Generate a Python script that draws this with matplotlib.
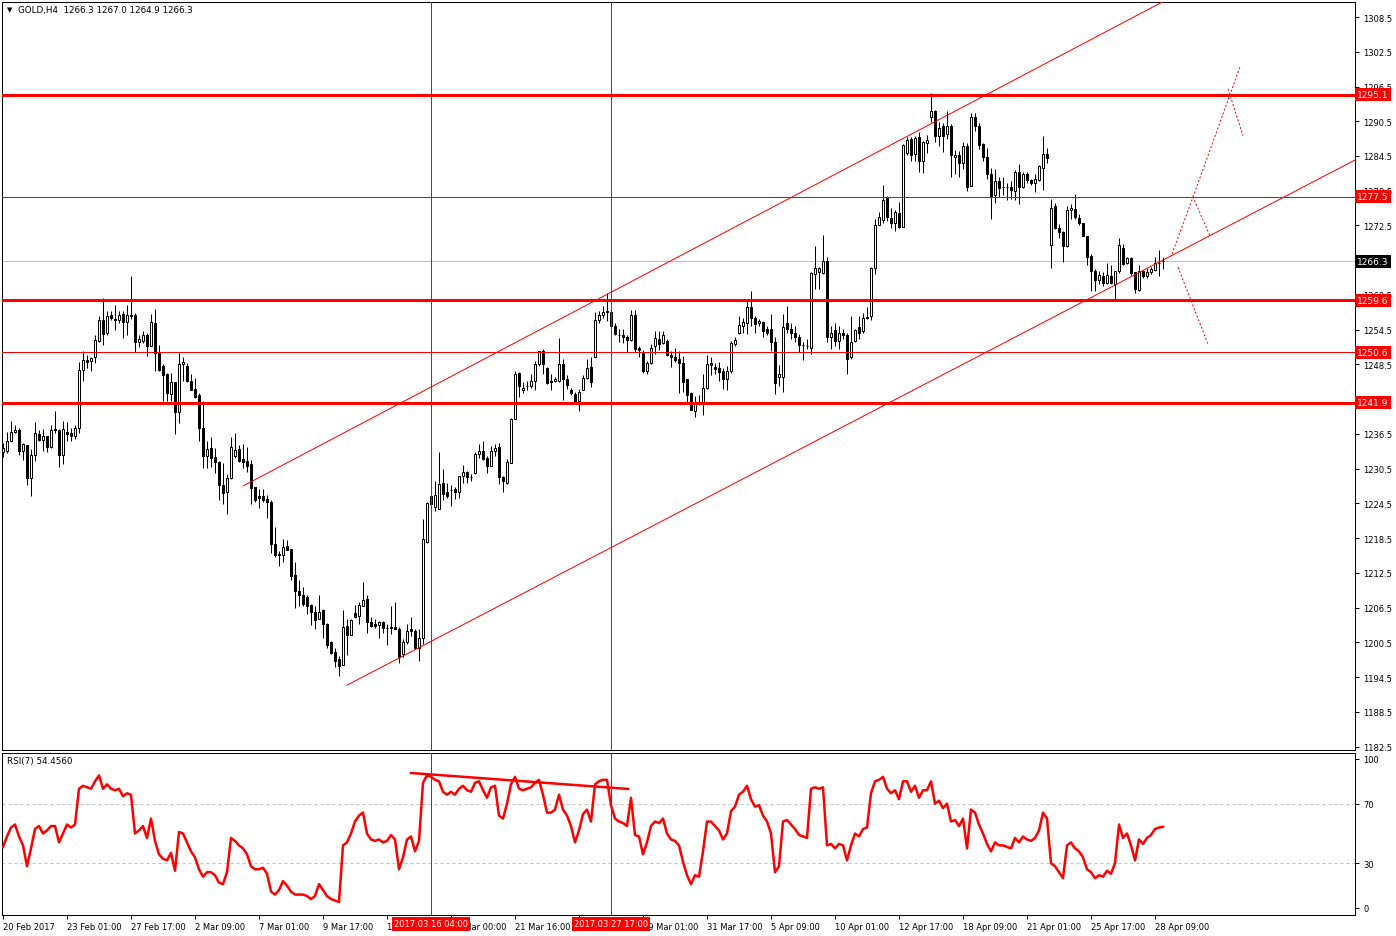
import numpy as np
import matplotlib.pyplot as plt
import matplotlib.transforms as mtransforms

# GOLD H4 candles, bar index 0 = 20 Feb 2017
opens = [
    1233.4, 1233.6, 1235.3, 1236.8, 1237.2, 1233.6, 1234.6, 1228.8, 1232.9, 1236.5,
    1235.5, 1236.2, 1234.2, 1237.3, 1237.2, 1232.9, 1236.8, 1236.7, 1236.1, 1237.5,
    1247.5, 1249.3, 1249.1, 1249.7, 1252.6, 1256.2, 1253.9, 1257.0, 1256.3, 1256.2,
    1257.2, 1255.8, 1257.0, 1257.0, 1252.3, 1252.6, 1253.6, 1251.7, 1255.7, 1250.4,
    1248.2, 1246.8, 1243.4, 1245.4, 1240.3, 1248.5, 1248.2, 1245.6, 1244.3, 1243.2,
    1237.5, 1232.6, 1234.1, 1232.5, 1231.7, 1227.7, 1226.4, 1228.8, 1232.7, 1233.9,
    1232.2, 1231.9, 1231.3, 1227.3, 1225.7, 1225.7, 1225.3, 1224.7, 1217.5, 1215.8,
    1215.6, 1217.1, 1216.6, 1212.1, 1209.4, 1208.7, 1208.3, 1206.9, 1205.8, 1204.6,
    1206.1, 1203.7, 1200.5, 1198.8, 1197.6, 1196.5, 1203.3, 1201.8, 1205.5, 1205.0,
    1206.8, 1208.0, 1204.0, 1203.7, 1203.5, 1204.0, 1202.9, 1203.2, 1203.2, 1202.8,
    1198.5, 1200.5, 1202.8, 1202.5, 1199.6, 1201.2, 1217.8, 1224.4, 1223.8, 1223.6,
    1228.0, 1226.5, 1226.8, 1227.0, 1226.5, 1229.2, 1229.9, 1229.0, 1229.7, 1233.0,
    1233.5, 1232.3, 1231.0, 1233.5, 1234.2, 1229.0, 1228.1, 1231.5, 1239.1, 1247.0,
    1244.1, 1244.8, 1244.8, 1245.6, 1248.6, 1250.8, 1247.8, 1245.7, 1245.6, 1245.7,
    1248.6, 1246.0, 1244.1, 1243.4, 1242.1, 1244.0, 1246.1, 1248.0, 1249.7, 1256.1,
    1257.0, 1257.5, 1257.5, 1255.1, 1253.6, 1253.6, 1253.2, 1252.8, 1257.0, 1251.3,
    1250.6, 1247.4, 1248.7, 1251.6, 1252.9, 1252.2, 1252.6, 1250.2, 1249.7, 1249.4,
    1248.7, 1245.9, 1243.5, 1240.5, 1241.8, 1241.8, 1244.4, 1248.7, 1248.0, 1247.8,
    1247.3, 1245.9, 1247.3, 1252.0, 1254.0, 1255.1, 1255.6, 1258.4, 1256.5, 1255.7,
    1255.8, 1254.6, 1254.6, 1252.3, 1246.4, 1246.3, 1255.7, 1254.7, 1253.9, 1253.2,
    1251.9, 1251.6, 1251.4, 1264.1, 1264.4, 1264.3, 1266.4, 1253.2, 1254.5, 1252.6,
    1253.9, 1253.6, 1249.7, 1252.5, 1254.9, 1254.2, 1256.5, 1256.8, 1265.1, 1272.5,
    1273.4, 1277.2, 1273.8, 1272.9, 1274.6, 1272.3, 1285.0, 1287.4, 1284.8, 1287.7,
    1283.6, 1286.7, 1291.2, 1292.2, 1287.9, 1289.6, 1288.3, 1289.6, 1284.3, 1284.7,
    1283.3, 1286.2, 1279.4, 1291.3, 1289.6, 1286.6, 1284.4, 1281.4, 1277.8, 1280.2,
    1279.1, 1279.1, 1279.1, 1278.5, 1281.7, 1279.1, 1281.4, 1280.4, 1279.8, 1280.4,
    1282.5, 1284.8, 1269.2, 1275.9, 1272.0, 1271.3, 1269.0, 1275.1, 1275.3, 1273.8,
    1272.9, 1270.7, 1267.3, 1264.7, 1263.1, 1263.8, 1262.5, 1263.8, 1262.4, 1264.6,
    1268.6, 1266.1, 1266.9, 1264.4, 1261.4, 1264.6, 1263.7, 1264.4, 1264.8, 1266.0,
    1266.3,
]
highs = [
    1234.9, 1236.8, 1238.7, 1238.0, 1237.5, 1235.0, 1234.6, 1233.9, 1238.5, 1237.1,
    1237.3, 1236.2, 1238.1, 1240.4, 1237.3, 1238.7, 1238.5, 1237.5, 1238.0, 1248.9,
    1250.9, 1250.1, 1249.8, 1253.6, 1256.8, 1260.0, 1257.8, 1257.8, 1258.8, 1257.8,
    1257.7, 1258.8, 1263.7, 1257.3, 1253.6, 1254.3, 1253.9, 1257.2, 1258.1, 1251.9,
    1248.5, 1247.0, 1247.0, 1245.4, 1250.5, 1249.8, 1248.7, 1246.8, 1246.1, 1243.6,
    1242.1, 1235.2, 1235.9, 1234.1, 1231.9, 1231.4, 1229.5, 1235.9, 1236.7, 1234.6,
    1234.8, 1234.2, 1232.0, 1227.3, 1227.0, 1227.0, 1225.9, 1225.0, 1220.5, 1216.2,
    1218.4, 1218.1, 1216.6, 1214.3, 1211.3, 1210.0, 1208.6, 1207.1, 1206.7, 1208.7,
    1206.2, 1203.8, 1200.8, 1199.6, 1198.1, 1206.1, 1204.5, 1204.5, 1206.9, 1207.4,
    1210.9, 1208.6, 1204.8, 1204.5, 1204.2, 1204.2, 1203.7, 1206.7, 1207.4, 1203.1,
    1201.1, 1203.7, 1204.8, 1202.8, 1202.8, 1221.8, 1224.8, 1226.5, 1228.4, 1233.3,
    1230.4, 1228.0, 1227.6, 1227.3, 1229.3, 1231.2, 1230.1, 1229.6, 1233.3, 1234.8,
    1235.2, 1232.7, 1234.4, 1234.8, 1234.9, 1229.3, 1232.2, 1239.2, 1247.4, 1247.2,
    1245.4, 1245.7, 1246.8, 1249.1, 1250.8, 1251.2, 1248.0, 1246.8, 1246.3, 1253.1,
    1249.4, 1246.7, 1244.5, 1243.7, 1244.2, 1246.6, 1249.4, 1249.7, 1257.5, 1257.8,
    1258.6, 1260.8, 1259.5, 1255.6, 1254.6, 1254.7, 1253.5, 1257.9, 1257.9, 1251.7,
    1251.0, 1249.1, 1252.0, 1254.2, 1254.3, 1254.2, 1252.9, 1250.9, 1251.3, 1250.9,
    1250.0, 1246.0, 1243.7, 1243.0, 1243.2, 1246.8, 1250.1, 1249.7, 1248.8, 1249.0,
    1247.8, 1248.3, 1252.6, 1253.2, 1256.9, 1256.5, 1259.8, 1261.1, 1256.9, 1256.3,
    1256.0, 1255.2, 1257.2, 1253.2, 1248.4, 1257.2, 1258.6, 1255.7, 1255.2, 1253.8,
    1252.4, 1252.9, 1264.4, 1269.0, 1265.4, 1270.9, 1267.0, 1255.2, 1255.7, 1255.2,
    1254.6, 1254.0, 1256.9, 1254.7, 1256.9, 1257.3, 1258.4, 1265.3, 1273.6, 1274.8,
    1279.5, 1277.6, 1275.5, 1275.2, 1276.5, 1286.6, 1287.7, 1287.8, 1288.0, 1288.6,
    1287.1, 1288.2, 1295.3, 1292.4, 1290.3, 1290.2, 1292.3, 1290.0, 1285.5, 1285.4,
    1287.0, 1286.7, 1292.0, 1292.0, 1290.2, 1286.7, 1285.8, 1282.4, 1282.2, 1280.9,
    1280.8, 1279.8, 1280.1, 1282.1, 1283.1, 1281.7, 1281.7, 1280.6, 1281.4, 1282.9,
    1288.0, 1285.9, 1277.1, 1276.3, 1272.8, 1271.6, 1275.9, 1276.2, 1277.9, 1274.5,
    1273.0, 1270.7, 1267.5, 1264.9, 1264.7, 1264.5, 1266.1, 1265.7, 1264.7, 1270.3,
    1269.3, 1267.1, 1267.0, 1264.5, 1265.6, 1264.8, 1265.2, 1265.3, 1267.1, 1268.3,
    1267.0,
]
lows = [
    1232.5, 1233.2, 1235.2, 1236.7, 1232.9, 1232.0, 1227.7, 1225.7, 1231.9, 1235.2,
    1233.6, 1233.3, 1234.1, 1236.7, 1230.8, 1231.3, 1235.3, 1235.3, 1235.6, 1236.7,
    1245.7, 1247.8, 1247.4, 1248.7, 1252.4, 1251.9, 1253.5, 1256.1, 1254.5, 1255.7,
    1253.0, 1253.5, 1256.3, 1250.6, 1251.5, 1252.2, 1249.9, 1251.6, 1247.3, 1247.4,
    1242.1, 1242.1, 1242.2, 1236.5, 1238.4, 1245.6, 1245.5, 1244.0, 1242.7, 1235.2,
    1230.6, 1230.6, 1230.7, 1229.7, 1225.1, 1224.4, 1222.6, 1228.7, 1232.3, 1231.6,
    1230.6, 1229.9, 1224.4, 1224.8, 1223.7, 1224.7, 1221.9, 1215.9, 1215.2, 1213.7,
    1214.4, 1216.5, 1211.2, 1206.4, 1206.8, 1206.7, 1205.4, 1203.5, 1202.8, 1204.5,
    1201.2, 1199.6, 1198.5, 1196.2, 1194.6, 1196.5, 1198.3, 1201.7, 1204.7, 1203.7,
    1206.8, 1202.1, 1203.1, 1202.9, 1201.2, 1202.1, 1200.1, 1201.9, 1202.8, 1196.9,
    1197.9, 1200.2, 1201.6, 1199.3, 1197.2, 1200.2, 1217.7, 1223.5, 1223.1, 1223.5,
    1225.0, 1225.5, 1224.1, 1225.2, 1225.4, 1228.1, 1228.1, 1228.3, 1229.6, 1232.3,
    1232.0, 1229.7, 1230.9, 1232.7, 1227.8, 1226.5, 1227.8, 1231.5, 1239.1, 1242.8,
    1243.6, 1244.1, 1244.5, 1244.1, 1248.3, 1246.8, 1245.1, 1244.0, 1245.4, 1245.4,
    1242.4, 1244.3, 1243.2, 1241.7, 1240.5, 1244.0, 1246.0, 1244.6, 1249.7, 1255.7,
    1256.6, 1256.0, 1252.0, 1253.6, 1252.3, 1252.2, 1250.7, 1252.5, 1250.7, 1249.7,
    1247.1, 1246.9, 1248.6, 1250.3, 1251.0, 1252.0, 1250.0, 1248.0, 1248.9, 1243.5,
    1243.8, 1241.9, 1240.7, 1239.4, 1241.5, 1239.8, 1244.3, 1246.7, 1246.8, 1245.7,
    1244.3, 1244.1, 1247.1, 1251.7, 1253.8, 1253.9, 1253.8, 1255.2, 1254.0, 1255.1,
    1253.2, 1253.5, 1250.9, 1243.4, 1244.8, 1243.8, 1254.0, 1252.9, 1252.4, 1250.6,
    1249.3, 1251.2, 1250.3, 1261.5, 1261.5, 1264.1, 1252.3, 1251.2, 1251.7, 1251.2,
    1252.9, 1246.8, 1249.4, 1252.3, 1252.9, 1254.0, 1256.3, 1256.2, 1264.1, 1272.5,
    1273.0, 1273.3, 1272.1, 1271.6, 1272.1, 1272.2, 1284.6, 1283.6, 1283.6, 1281.8,
    1281.5, 1285.1, 1290.3, 1287.0, 1286.3, 1285.2, 1287.4, 1280.9, 1281.4, 1280.9,
    1282.3, 1278.5, 1279.4, 1288.8, 1285.7, 1283.7, 1280.6, 1273.6, 1276.3, 1277.4,
    1277.8, 1276.9, 1277.1, 1276.9, 1276.2, 1279.0, 1279.8, 1279.5, 1278.2, 1280.2,
    1278.6, 1283.3, 1265.1, 1271.9, 1270.3, 1266.2, 1268.8, 1273.6, 1273.6, 1272.5,
    1270.7, 1265.6, 1261.2, 1261.2, 1262.4, 1262.1, 1262.4, 1262.4, 1259.5, 1264.3,
    1265.6, 1265.8, 1263.9, 1260.9, 1261.1, 1263.4, 1263.5, 1264.1, 1264.6, 1263.8,
    1264.9,
]
closes = [
    1234.0, 1235.3, 1236.9, 1237.2, 1233.6, 1234.8, 1228.8, 1232.9, 1236.7, 1235.5,
    1236.1, 1234.2, 1237.2, 1237.1, 1232.9, 1237.3, 1236.4, 1236.2, 1237.5, 1247.5,
    1249.3, 1249.0, 1249.6, 1252.7, 1256.2, 1253.8, 1256.8, 1256.5, 1256.1, 1257.0,
    1255.8, 1257.0, 1256.8, 1252.4, 1252.9, 1253.6, 1251.6, 1255.8, 1250.4, 1247.6,
    1246.7, 1243.5, 1245.4, 1240.3, 1248.5, 1249.0, 1245.7, 1244.1, 1242.9, 1237.5,
    1232.6, 1233.9, 1232.3, 1231.7, 1227.6, 1226.3, 1228.8, 1234.2, 1233.7, 1231.9,
    1231.7, 1231.0, 1227.2, 1225.0, 1225.4, 1225.0, 1224.7, 1217.5, 1215.6, 1215.5,
    1216.9, 1216.5, 1212.0, 1209.4, 1208.7, 1207.1, 1206.8, 1205.8, 1204.4, 1205.8,
    1203.7, 1200.0, 1198.6, 1197.3, 1196.4, 1203.1, 1201.8, 1204.4, 1204.9, 1206.9,
    1207.8, 1204.0, 1203.4, 1203.4, 1204.0, 1202.9, 1202.9, 1203.0, 1202.8, 1197.9,
    1200.5, 1202.5, 1202.5, 1199.6, 1201.2, 1218.3, 1224.6, 1225.8, 1225.9, 1227.8,
    1226.1, 1225.7, 1226.8, 1226.5, 1229.2, 1230.0, 1229.0, 1229.0, 1233.0, 1233.6,
    1232.2, 1231.0, 1233.5, 1234.0, 1229.1, 1228.4, 1231.6, 1239.1, 1246.8, 1244.7,
    1244.5, 1244.8, 1245.7, 1248.6, 1250.8, 1248.5, 1245.3, 1245.4, 1246.0, 1248.6,
    1246.0, 1245.0, 1243.6, 1242.0, 1243.8, 1246.1, 1247.8, 1245.4, 1256.2, 1257.1,
    1257.5, 1257.8, 1255.1, 1253.8, 1253.6, 1253.2, 1252.8, 1257.0, 1251.2, 1251.0,
    1247.3, 1248.7, 1251.4, 1253.0, 1252.1, 1253.6, 1250.2, 1249.7, 1249.2, 1248.7,
    1245.4, 1243.2, 1240.7, 1241.9, 1241.8, 1244.4, 1248.6, 1248.4, 1247.7, 1247.2,
    1245.9, 1247.4, 1252.2, 1252.8, 1255.3, 1255.9, 1258.5, 1256.6, 1255.5, 1256.0,
    1254.3, 1253.9, 1252.3, 1245.3, 1246.8, 1254.9, 1254.6, 1253.9, 1253.2, 1251.9,
    1251.8, 1251.6, 1264.3, 1265.1, 1265.2, 1266.4, 1253.3, 1254.0, 1252.5, 1254.0,
    1253.6, 1249.5, 1252.4, 1254.4, 1254.0, 1256.5, 1256.7, 1265.1, 1272.6, 1273.9,
    1276.9, 1273.9, 1272.9, 1274.8, 1272.3, 1286.4, 1287.3, 1284.6, 1287.6, 1283.7,
    1287.0, 1287.3, 1292.2, 1287.9, 1289.4, 1287.9, 1289.6, 1284.6, 1284.7, 1283.3,
    1286.2, 1279.2, 1291.3, 1289.6, 1286.4, 1284.4, 1281.4, 1277.6, 1280.1, 1278.9,
    1279.1, 1279.1, 1278.6, 1281.7, 1279.1, 1281.4, 1280.4, 1279.8, 1280.6, 1282.8,
    1284.8, 1284.2, 1275.6, 1272.0, 1271.3, 1269.0, 1275.2, 1275.5, 1273.9, 1272.9,
    1270.7, 1267.1, 1264.6, 1263.1, 1263.9, 1262.6, 1263.9, 1262.6, 1264.6, 1269.1,
    1265.8, 1266.9, 1264.3, 1261.5, 1264.6, 1263.7, 1264.4, 1265.0, 1266.0, 1266.1,
    1266.3,
]

# RSI(7), one value per bar
rsi = [
    41, 48, 54, 56, 48, 42, 28, 40, 53, 55,
    50, 52, 55, 55, 44, 50, 56, 54, 56, 80,
    82, 81, 80, 85, 89, 80, 83, 80, 79, 80,
    75, 77, 76, 50, 52, 55, 47, 60, 45, 36,
    33, 32, 37, 25, 51, 50, 44, 38, 34, 26,
    21, 24, 24, 22, 17, 16, 24, 47, 45, 42,
    40, 36, 28, 26, 26, 27, 23, 11, 9, 12,
    18, 15, 11, 9, 9, 9, 8, 6, 8, 16,
    12, 8, 6, 5, 4, 42, 44, 50, 58, 62,
    64, 50, 46, 45, 46, 44, 45, 49, 46, 26,
    34, 46, 48, 38, 45, 84, 89, 88, 86, 85,
    78, 76, 78, 76, 80, 82, 79, 78, 84, 85,
    79, 74, 81, 82, 62, 60, 70, 83, 88, 80,
    79, 80, 81, 84, 86, 76, 64, 64, 66, 76,
    66, 62, 55, 44, 52, 63, 66, 58, 83, 85,
    86, 86, 69, 60, 58, 57, 55, 74, 49, 48,
    36, 44, 55, 58, 57, 60, 50, 46, 45, 42,
    31, 22, 16, 22, 21, 38, 58, 58, 55, 52,
    46, 50, 65, 68, 76, 78, 82, 73, 68, 69,
    62, 58, 50, 24, 28, 58, 59, 56, 53, 49,
    48, 47, 80, 81, 80, 81, 42, 43, 40, 43,
    42, 32, 42, 50, 48, 53, 54, 77, 85, 86,
    88, 80, 77, 79, 73, 85, 85, 78, 82, 74,
    79, 79, 85, 70, 72, 67, 70, 58, 59, 55,
    60, 40, 66, 64, 56, 50, 43, 38, 44, 42,
    42, 41, 40, 47, 44, 48, 46, 45, 47, 52,
    64, 60, 30, 28, 24, 20, 42, 44, 40, 38,
    34, 26, 24, 20, 22, 21, 25, 23, 30, 56,
    47, 50, 42, 32, 46, 43, 47, 49, 53, 54,
    54.456,
]

date_tick_bars = list(range(0, 289, 16))
# '24 Mar 08:00' sits fully under the red time label, so it is left blank
date_tick_labels = ['20 Feb 2017', '23 Feb 01:00', '27 Feb 17:00', '2 Mar 09:00',
                    '7 Mar 01:00', '9 Mar 17:00', '14 Mar 09:00', '17 Mar 00:00',
                    '21 Mar 16:00', '', '29 Mar 01:00', '31 Mar 17:00',
                    '5 Apr 09:00', '10 Apr 01:00', '12 Apr 17:00', '18 Apr 09:00',
                    '21 Apr 01:00', '25 Apr 17:00', '28 Apr 09:00']
price_ticks = [1182.5 + 6 * k for k in range(22)]

levels_thick = [1295.1, 1259.6, 1241.9]
levels_thin = [1277.5, 1250.6]
bid = 1266.3
vline_bars = [107, 152]
vline_labels = ['2017.03.16 04:00', '2017.03.27 17:00']

# channel rays: two anchor points each (bar, price)
upper_ray = ([60, 151], [1227.5, 1260.6])
lower_ray = ([86, 338], [1193.1, 1283.8])

# dotted projection paths (bar, price)
proj_paths = [
    ([292.25, 297.5, 301.75], [1267.6, 1277.4, 1270.7]),
    ([297.5, 309.25], [1277.4, 1299.9]),
    ([306.25, 310.0], [1296.1, 1288.0]),
    ([293.75, 301.25], [1265.3, 1252.0]),
]

rsi_div = ([102, 156.25], [90.6, 79.9])

plt.rcParams['font.family'] = ['DejaVu Sans']
W, H = 1396, 937
PX = 0.72
fig = plt.figure(figsize=(W / 100, H / 100), dpi=100)
ax = fig.add_axes([2 / W, 1 - 751 / H, 1353 / W, 748 / H])
ax2 = fig.add_axes([2 / W, 1 - 916 / H, 1353 / W, 162 / H])

xmin, xmax = -0.25, 338
for a in (ax, ax2):
    a.set_xlim(xmin, xmax)
    for s in a.spines.values():
        s.set_linewidth(PX)
        s.set_color('black')
ax.set_ylim(1181.9, 1311.1)
ax2.set_ylim(-4.7, 104)

# candles
x = np.arange(len(closes))
o = np.array(opens)
c = np.array(closes)
up = c >= o
ax.vlines(x, lows, highs, color='black', lw=PX, zorder=3)
ax.bar(x, np.abs(c - o), bottom=np.minimum(o, c), width=0.5,
       color=np.where(up, 'white', 'black'), edgecolor='black', linewidth=PX, zorder=4)

# horizontal levels
ax.axhline(bid, color='#c0c0c0', lw=PX, zorder=1)
for lv in levels_thick:
    ax.axhline(lv, color='red', lw=3 * PX, zorder=5)
for lv in levels_thin:
    ax.axhline(lv, color='red', lw=PX, zorder=5)
for b in vline_bars:
    ax.axvline(b, color='red', lw=PX, zorder=5)
    ax2.axvline(b, color='red', lw=PX, zorder=5)

# channel rays
for (bx, py) in (upper_ray, lower_ray):
    slope = (py[1] - py[0]) / (bx[1] - bx[0])
    ax.plot([bx[0], xmax], [py[0], py[0] + slope * (xmax - bx[0])], color='red', lw=PX, zorder=5)

for bx, py in proj_paths:
    ax.plot(bx, py, color='red', lw=PX, ls=(0, (2, 2)), zorder=5)

# right price axis; 1266.5 sits fully under the bid label
ax.yaxis.tick_right()
ax.set_yticks(price_ticks)
ax.set_yticklabels(['' if abs(v - 1266.5) < 0.01 else f'{v:.1f}' for v in price_ticks])
ax.tick_params(axis='y', direction='out', length=3, width=PX, labelsize=6, pad=3)
ax.set_xticks([])

trans = mtransforms.blended_transform_factory(ax.transAxes, ax.transData)
for lv in levels_thick + levels_thin:
    ax.text(1.0016, lv, f'{lv:.1f}', transform=trans, ha='left', va='center', fontsize=6.5,
            color='white', clip_on=False, zorder=10,
            bbox=dict(boxstyle='square,pad=0.22', fc='red', ec='none'))
ax.text(1.0016, bid, f'{bid:.1f}', transform=trans, ha='left', va='center', fontsize=6.5,
        color='white', clip_on=False, zorder=10,
        bbox=dict(boxstyle='square,pad=0.22', fc='black', ec='none'))

# RSI panel
ax2.plot(x, rsi, color='red', lw=2.5 * PX, zorder=4)
ax2.plot(rsi_div[0], rsi_div[1], color='red', lw=2.5 * PX, zorder=4)
for lv in (70, 30):
    ax2.axhline(lv, color='#c0c0c0', lw=PX, ls=(0, (3, 3)), zorder=1)
ax2.yaxis.tick_right()
ax2.set_yticks([0, 30, 70, 100])
ax2.set_yticklabels(['0', '30', '70', '100'])
ax2.tick_params(axis='y', direction='out', length=3, width=PX, labelsize=6, pad=3)
ax2.set_xticks(date_tick_bars)
ax2.set_xticklabels(date_tick_labels, ha='left')
ax2.tick_params(axis='x', direction='out', length=3, width=PX, labelsize=6, pad=2)

trans2 = mtransforms.blended_transform_factory(ax2.transData, fig.transFigure)
for b, lab in zip(vline_bars, vline_labels):
    ax2.text(b, 1 - 925 / H, lab, transform=trans2, ha='center', va='center', fontsize=6,
             color='white', clip_on=False, zorder=10,
             bbox=dict(boxstyle='square,pad=0.25', fc='red', ec='none'))

fig.text(7 / W, 1 - 10 / H, '\u25bc', fontsize=5, va='center', ha='left')
fig.text(18 / W, 1 - 10 / H, 'GOLD,H4  1266.3 1267.0 1264.9 1266.3', fontsize=6.3, va='center', ha='left')
fig.text(7 / W, 1 - 762 / H, 'RSI(7) 54.4560', fontsize=6.3, va='center', ha='left')

fig.savefig('out.png', dpi=100)
